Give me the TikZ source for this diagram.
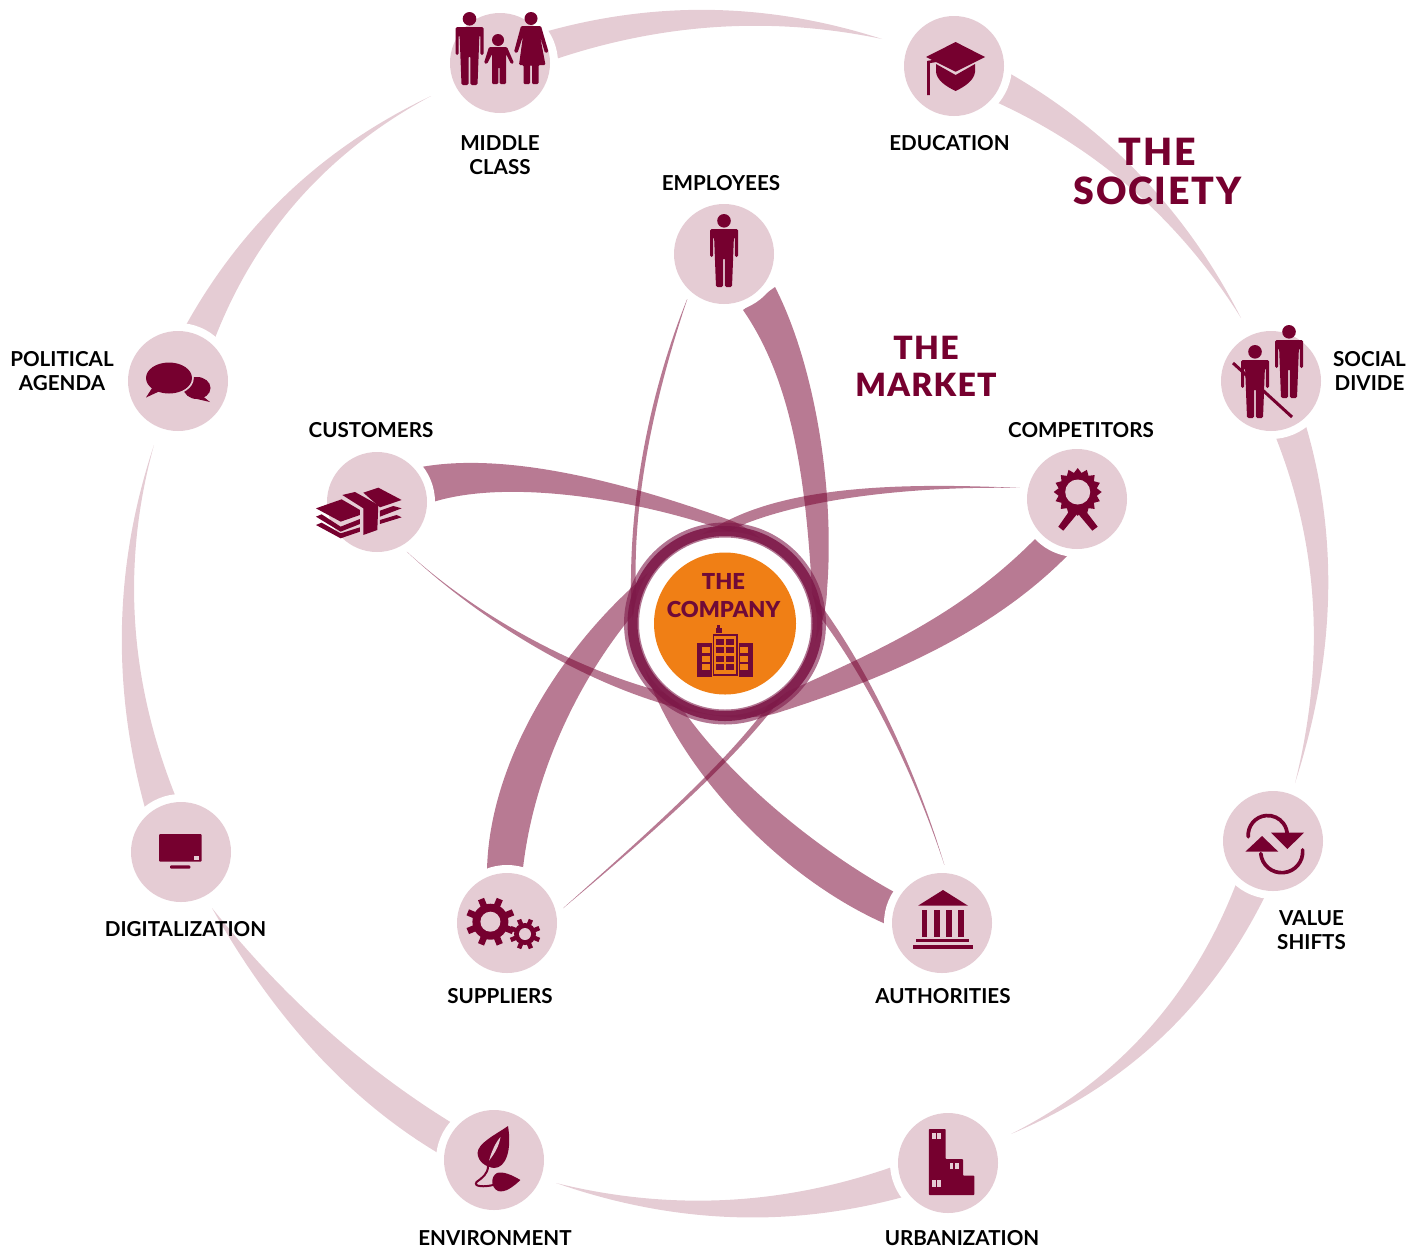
\documentclass[tikz,border=0pt]{standalone}
\usepackage{fontspec}
\usetikzlibrary{calc}
\setmainfont{Lato}
\newfontfamily\lblack{Lato Black}
\definecolor{wine}{HTML}{76002F}
\definecolor{rosy}{HTML}{E5CCD4}
\definecolor{core}{HTML}{7E1949}
\definecolor{ctext}{HTML}{6F0A38}
\definecolor{orng}{HTML}{F07F15}
% tapered arc: thick start #2, via #3, tip #4, back via #5, thick end #6
\newcommand{\arcband}[6]{%
  \coordinate (pa) at #2; \coordinate (ma) at #3; \coordinate (pb) at #4; \coordinate (mb) at #5; \coordinate (pc) at #6;
  \coordinate (qa) at ($2*(ma)-.5*(pa)-.5*(pb)$);
  \coordinate (qb) at ($2*(mb)-.5*(pb)-.5*(pc)$);
  \fill[#1] (pa) .. controls ($(pa)!.6667!(qa)$) and ($(pb)!.6667!(qa)$) .. (pb)
     .. controls ($(pb)!.6667!(qb)$) and ($(pc)!.6667!(qb)$) .. (pc) -- cycle;}
\newcommand{\manicon}[2]{%
  \begin{scope}[shift={(#1,#2)}]
  \fill[wine] (0,6.8) circle[radius=6.8pt];
  \fill[wine,rounded corners=1.5pt] (-14,15)--(14,15)--(14,43)--(10.9,43)--(10.9,23)--(9.9,23)--(8,73)--(0.8,73)--(0.8,44)--(-0.8,44)--(-0.8,73)--(-8,73)--(-9.9,23)--(-10.9,23)--(-10.9,43)--(-14,43)--cycle;
  \end{scope}}
\newcommand{\gearicon}[6]{% x y body outer toothwidth hole
  \fill[wine] (#1,#2) circle[radius=#3pt];
  \foreach \a in {0,45,...,315}{\draw[wine,line width=#5pt] (#1,#2) -- ++(\a+22.5:#4pt);}
  \fill[rosy] (#1,#2) circle[radius=#6pt];}
\tikzset{
  society/.style={fill=rosy},
  market/.style={fill=wine,opacity=.52},
  halo/.style={circle,fill=white,minimum size=116pt,inner sep=0pt},
  disc/.style={circle,fill=rosy,minimum size=100pt,inner sep=0pt},
  label/.style={font=\fontsize{20.6}{24}\selectfont\bfseries,text=black,align=center,inner sep=0pt},
  title/.style={text=wine,align=center,inner sep=0pt},
}
\begin{document}
\begin{tikzpicture}[x=1pt,y=-1pt]
\useasboundingbox (0,0) rectangle (1415,1256);
% --- society arcs
\arcband{society}{(548,31)}{(715,10)}{(882,39)}{(717,27)}{(553,60)}
\arcband{society}{(1009,73)}{(1143,178)}{(1241,318)}{(1134,191)}{(996,102)}
\arcband{society}{(1306,426)}{(1328,600)}{(1295,783)}{(1313,606)}{(1276,438)}
\arcband{society}{(1267,892)}{(1162,1037)}{(1011,1134)}{(1147,1031)}{(1236,884)}
\arcband{society}{(903,1197)}{(730,1217)}{(556,1183)}{(725,1200)}{(892,1167)}
\arcband{society}{(452,1123)}{(325,1028)}{(212,908)}{(315,1052)}{(438,1153)}
\arcband{society}{(145,808)}{(122,625)}{(154,445)}{(135,620)}{(175,795)}
\arcband{society}{(186,325)}{(290,191)}{(431,96)}{(300,198)}{(215,338)}
% --- market arcs
\fill[market] (421,467) .. controls (505,452) and (620,480) .. (735,522) .. controls (805,557) and (895,700) .. (945,867) .. controls (892,705) and (800,565) .. (730,532) .. controls (640,500) and (510,478) .. (433,502) -- cycle;
\fill[market] (775,287) .. controls (815,365) and (835,490) .. (827,590) .. controls (825,680) and (710,785) .. (561,910) .. controls (706,781) and (820,680) .. (812,590) .. controls (806,490) and (795,385) .. (743,310) -- cycle;
\fill[market] (1036,538) .. controls (960,615) and (880,650) .. (780,695) .. controls (715,725) and (530,665) .. (405,550) .. controls (530,668) and (705,738) .. (780,712) .. controls (880,680) and (990,635) .. (1069,554) -- cycle;
\fill[market] (896,893) .. controls (795,838) and (640,710) .. (636,590) .. controls (632,490) and (660,380) .. (688,297) .. controls (652,385) and (630,490) .. (631,590) .. controls (630,720) and (760,870) .. (888,925) -- cycle;
\fill[market] (487,870) .. controls (490,730) and (610,575) .. (733,518) .. controls (810,482) and (930,484) .. (1022,488) .. controls (930,486) and (820,495) .. (747,523) .. controls (640,570) and (540,720) .. (523,868) -- cycle;
% --- company
\fill[white] (725,623.5) circle[radius=92pt];
\draw[core,opacity=.6,line width=15pt] (725,623.5) circle[radius=93.5pt];
\draw[core,opacity=.9,line width=10pt] (725,623.5) circle[radius=92.5pt];
\node[circle,fill=orng,minimum size=142pt,inner sep=0pt] (company) at (725,623.5) {};
\node[title,text=ctext,font=\fontsize{22}{27.5}\selectfont\lblack] (companyt) at (723.5,595.5) {THE\\COMPANY};
\fill[ctext] (717.3,624.5) rectangle (720.3,628.3);
\fill[ctext] (716,628.3) rectangle (722,634);
\fill[ctext] (697,642.7) rectangle (752.7,676.7);
\fill[ctext,draw=orng,line width=.8pt] (712,633.3) rectangle (738,676.7);
\fill[orng] (714,635.7) rectangle (736,674);
\foreach \y in {639,647.3,656,664}{
  \fill[ctext] (716,\y) rectangle (724,\y+6);
  \fill[ctext] (726,\y) rectangle (734,\y+6);}
\foreach \y in {647,656,664}{
  \fill[orng] (701.7,\y) rectangle (710.3,\y+6);
  \fill[orng] (740,\y) rectangle (748.3,\y+6);}
% --- halos and discs
\foreach \n/\x/\y in {edu/954/66,mid/500/63,emp/724/254,pol/178/381,soc/1271/381,cus/377/502,com/1077/499,dig/181/852,val/1273/841,sup/507/923,aut/942/923,env/494/1160,urb/948/1163}{
  \node[halo] (h\n) at (\x,\y) {};
  \node[disc] (\n) at (\x,\y) {};
}
% --- icons
% family
\manicon{469.5}{12}
\fill[wine] (498,40) circle[radius=6pt];
\fill[wine,rounded corners=1.2pt] (489,47)--(507,47)--(514,63)--(511,64)--(506,54)--(506,84)--(499.6,84)--(499.6,67)--(498.4,67)--(498.4,84)--(492,84)--(492,54)--(487,64)--(484,63)--cycle;
\fill[wine] (531,18.5) circle[radius=6.5pt];
\fill[wine,rounded corners=1.2pt] (521,26)--(541,26)--(548.5,52)--(545,53)--(540,36)--(545.5,65)--(538.5,65)--(538.5,84)--(532,84)--(532,65)--(530,65)--(530,84)--(523.5,84)--(523.5,65)--(519,65)--(523,36)--(517.5,53)--(514,52)--cycle;
% graduation cap
\fill[wine] (955.6,42)--(985,57)--(955.6,71.7)--(926,57)--cycle;
\fill[wine] (936,64)--(955.6,75)--(975,64)--(975,72) .. controls (974,80) and (966,86) .. (955.6,91) .. controls (945,86) and (937,80) .. (936,72)--cycle;
\draw[wine,line width=2.6pt] (941,60)--(928.5,62)--(928.5,95);
% employee
\manicon{724}{214}
% political bubbles
\fill[wine] (197,388) ellipse[x radius=13.5pt,y radius=11pt];
\fill[wine] (200,394)--(210,402)--(197,399)--cycle;
\draw[rosy,line width=2.6pt,fill=wine] (169,378) ellipse[x radius=23.5pt,y radius=16pt];
\fill[wine] (169,378) ellipse[x radius=23pt,y radius=15.5pt];
\fill[wine] (160,391)--(146,397.5)--(154,385)--cycle;
% social divide
\draw[wine,line width=3pt] (1233,363)--(1292,417);
\manicon{1289}{325}
\manicon{1255}{345}
% money
\begin{scope}[shift={(100,320)},x=.3333pt,y=-.3333pt]
\fill[wine] (648,565)--(725,538)--(780,570)--(780,585)--(722,605)--cycle;
\fill[wine] (648,590)--(665,583)--(722,620)--(780,597)--(780,612)--(722,635)--cycle;
\fill[wine] (648,615)--(665,608)--(722,640)--(780,622)--(780,635)--(722,655)--cycle;
\fill[wine] (727,525)--(765,516)--(835,555)--(832,630)--(790,645)--(790,565)--cycle;
\fill[wine] (790,518)--(835,503)--(905,540)--(840,562)--cycle;
\fill[wine] (840,572)--(880,558)--(905,565)--(840,590)--cycle;
\fill[wine] (840,600)--(890,585)--(905,592)--(840,612)--cycle;
\end{scope}
% rosette
\fill[wine] (1070,510)--(1058.3,526.7)--(1063.3,530.7)--(1077.7,513.3)--(1092.3,530.7)--(1097.7,526.7)--(1085,510)--cycle;
\fill[wine] plot[domain=0:31,samples=32] ({1077.7+(24-4.5*mod(\x+0.01,2))*cos(\x*11.25)},{492+(24-4.5*mod(\x+0.01,2))*sin(\x*11.25)}) -- cycle;
\fill[rosy] (1077.7,492) circle[radius=12.5pt];
% tv
\fill[wine,rounded corners=1pt] (159,834) rectangle (201.7,861.7);
\fill[wine,rounded corners=1pt] (170,865.3) rectangle (190.3,868.7);
\fill[rosy] (194,856) rectangle (199,860);
% value shifts
\draw[wine,line width=3.7pt,line cap=round] (1267.7,835)++(185:19.5pt) arc[start angle=185,end angle=0,radius=19.5pt];
\draw[wine,line width=3.7pt,line cap=round] (1281.7,851.7)++(185:21pt) arc[start angle=185,end angle=365,radius=21pt];
\fill[wine] (1271,832.7)--(1304,832.7)--(1287.3,849)--cycle;
\fill[wine] (1245.3,851.7)--(1278.3,851.7)--(1262,836)--cycle;
% gears
\gearicon{490.4}{921.7}{18}{24.5}{6.5}{10}
\gearicon{525}{934}{11}{15.5}{4.5}{6}
% temple
\fill[wine] (943,890)--(968,905.7)--(918,905.7)--cycle;
\foreach \a/\b in {921.5/927.4,933.7/939.6,946/951.9,958/964}{\fill[wine] (\a,910) rectangle (\b,936.7);}
\fill[wine] (916.3,939) rectangle (969,942.3);
\fill[wine] (912.6,945) rectangle (972.6,949);
% leaves
\fill[wine] (508,1126) .. controls (495,1135) and (478,1143) .. (477.5,1153) .. controls (478,1162) and (486,1167) .. (494,1168) .. controls (506,1168) and (512,1150) .. (508,1126) -- cycle;
\fill[rosy] (489,1160.7) .. controls (492,1150) and (496,1142) .. (500.5,1137) .. controls (499,1146) and (495,1153) .. (489,1160.7) -- cycle;
\draw[wine,line width=2pt] (488,1166) .. controls (488,1174) and (482,1178) .. (476.5,1182) .. controls (473,1187) and (485,1187) .. (493,1185);
\fill[wine] (520.4,1180) .. controls (512,1175) and (503,1171) .. (497,1173) .. controls (491,1176) and (490,1187) .. (498,1191) .. controls (505,1193) and (513,1187) .. (520.4,1180) -- cycle;
% urbanization
\fill[wine,rounded corners=.8pt] (928.8,1129)--(945.7,1129)--(945.7,1159)--(963,1159)--(963,1175.7)--(974.4,1175.7)--(974.4,1195)--(928.8,1195)--cycle;
\foreach \a/\b in {932/1132.7,949.5/1162.7,932/1180}{
  \fill[rosy] (\a,\b) rectangle ++(3.9,6.7);
  \fill[rosy] (\a+5.3,\b) rectangle ++(3.9,6.7);}
% --- labels
\node[label] (lmid) at (500,155) {MIDDLE\\CLASS};
\node[label] (ledu) at (949.5,143) {EDUCATION};
\node[label] (lemp) at (721,183) {EMPLOYEES};
\node[label] (lpol) at (62,371) {POLITICAL\\AGENDA};
\node[label] (lsoc) at (1369.5,371) {SOCIAL\\DIVIDE};
\node[label] (lcus) at (371,430) {CUSTOMERS};
\node[label] (lcom) at (1081,430) {COMPETITORS};
\node[label] (ldig) at (185.5,929) {DIGITALIZATION};
\node[label] (lval) at (1311.5,930) {VALUE\\SHIFTS};
\node[label] (lsup) at (500,996) {SUPPLIERS};
\node[label] (laut) at (943,996) {AUTHORITIES};
\node[label] (lenv) at (495,1238) {ENVIRONMENT};
\node[label] (lurb) at (962,1238) {URBANIZATION};
\node[title,font=\fontsize{37.5}{39}\selectfont\lblack\addfontfeatures{LetterSpace=5}] (tsoc) at (1157.5,171.5) {THE\\SOCIETY};
\node[title,font=\fontsize{32}{37}\selectfont\lblack\addfontfeatures{LetterSpace=4}] (tmar) at (926,366) {THE\\MARKET};
\end{tikzpicture}
\end{document}
